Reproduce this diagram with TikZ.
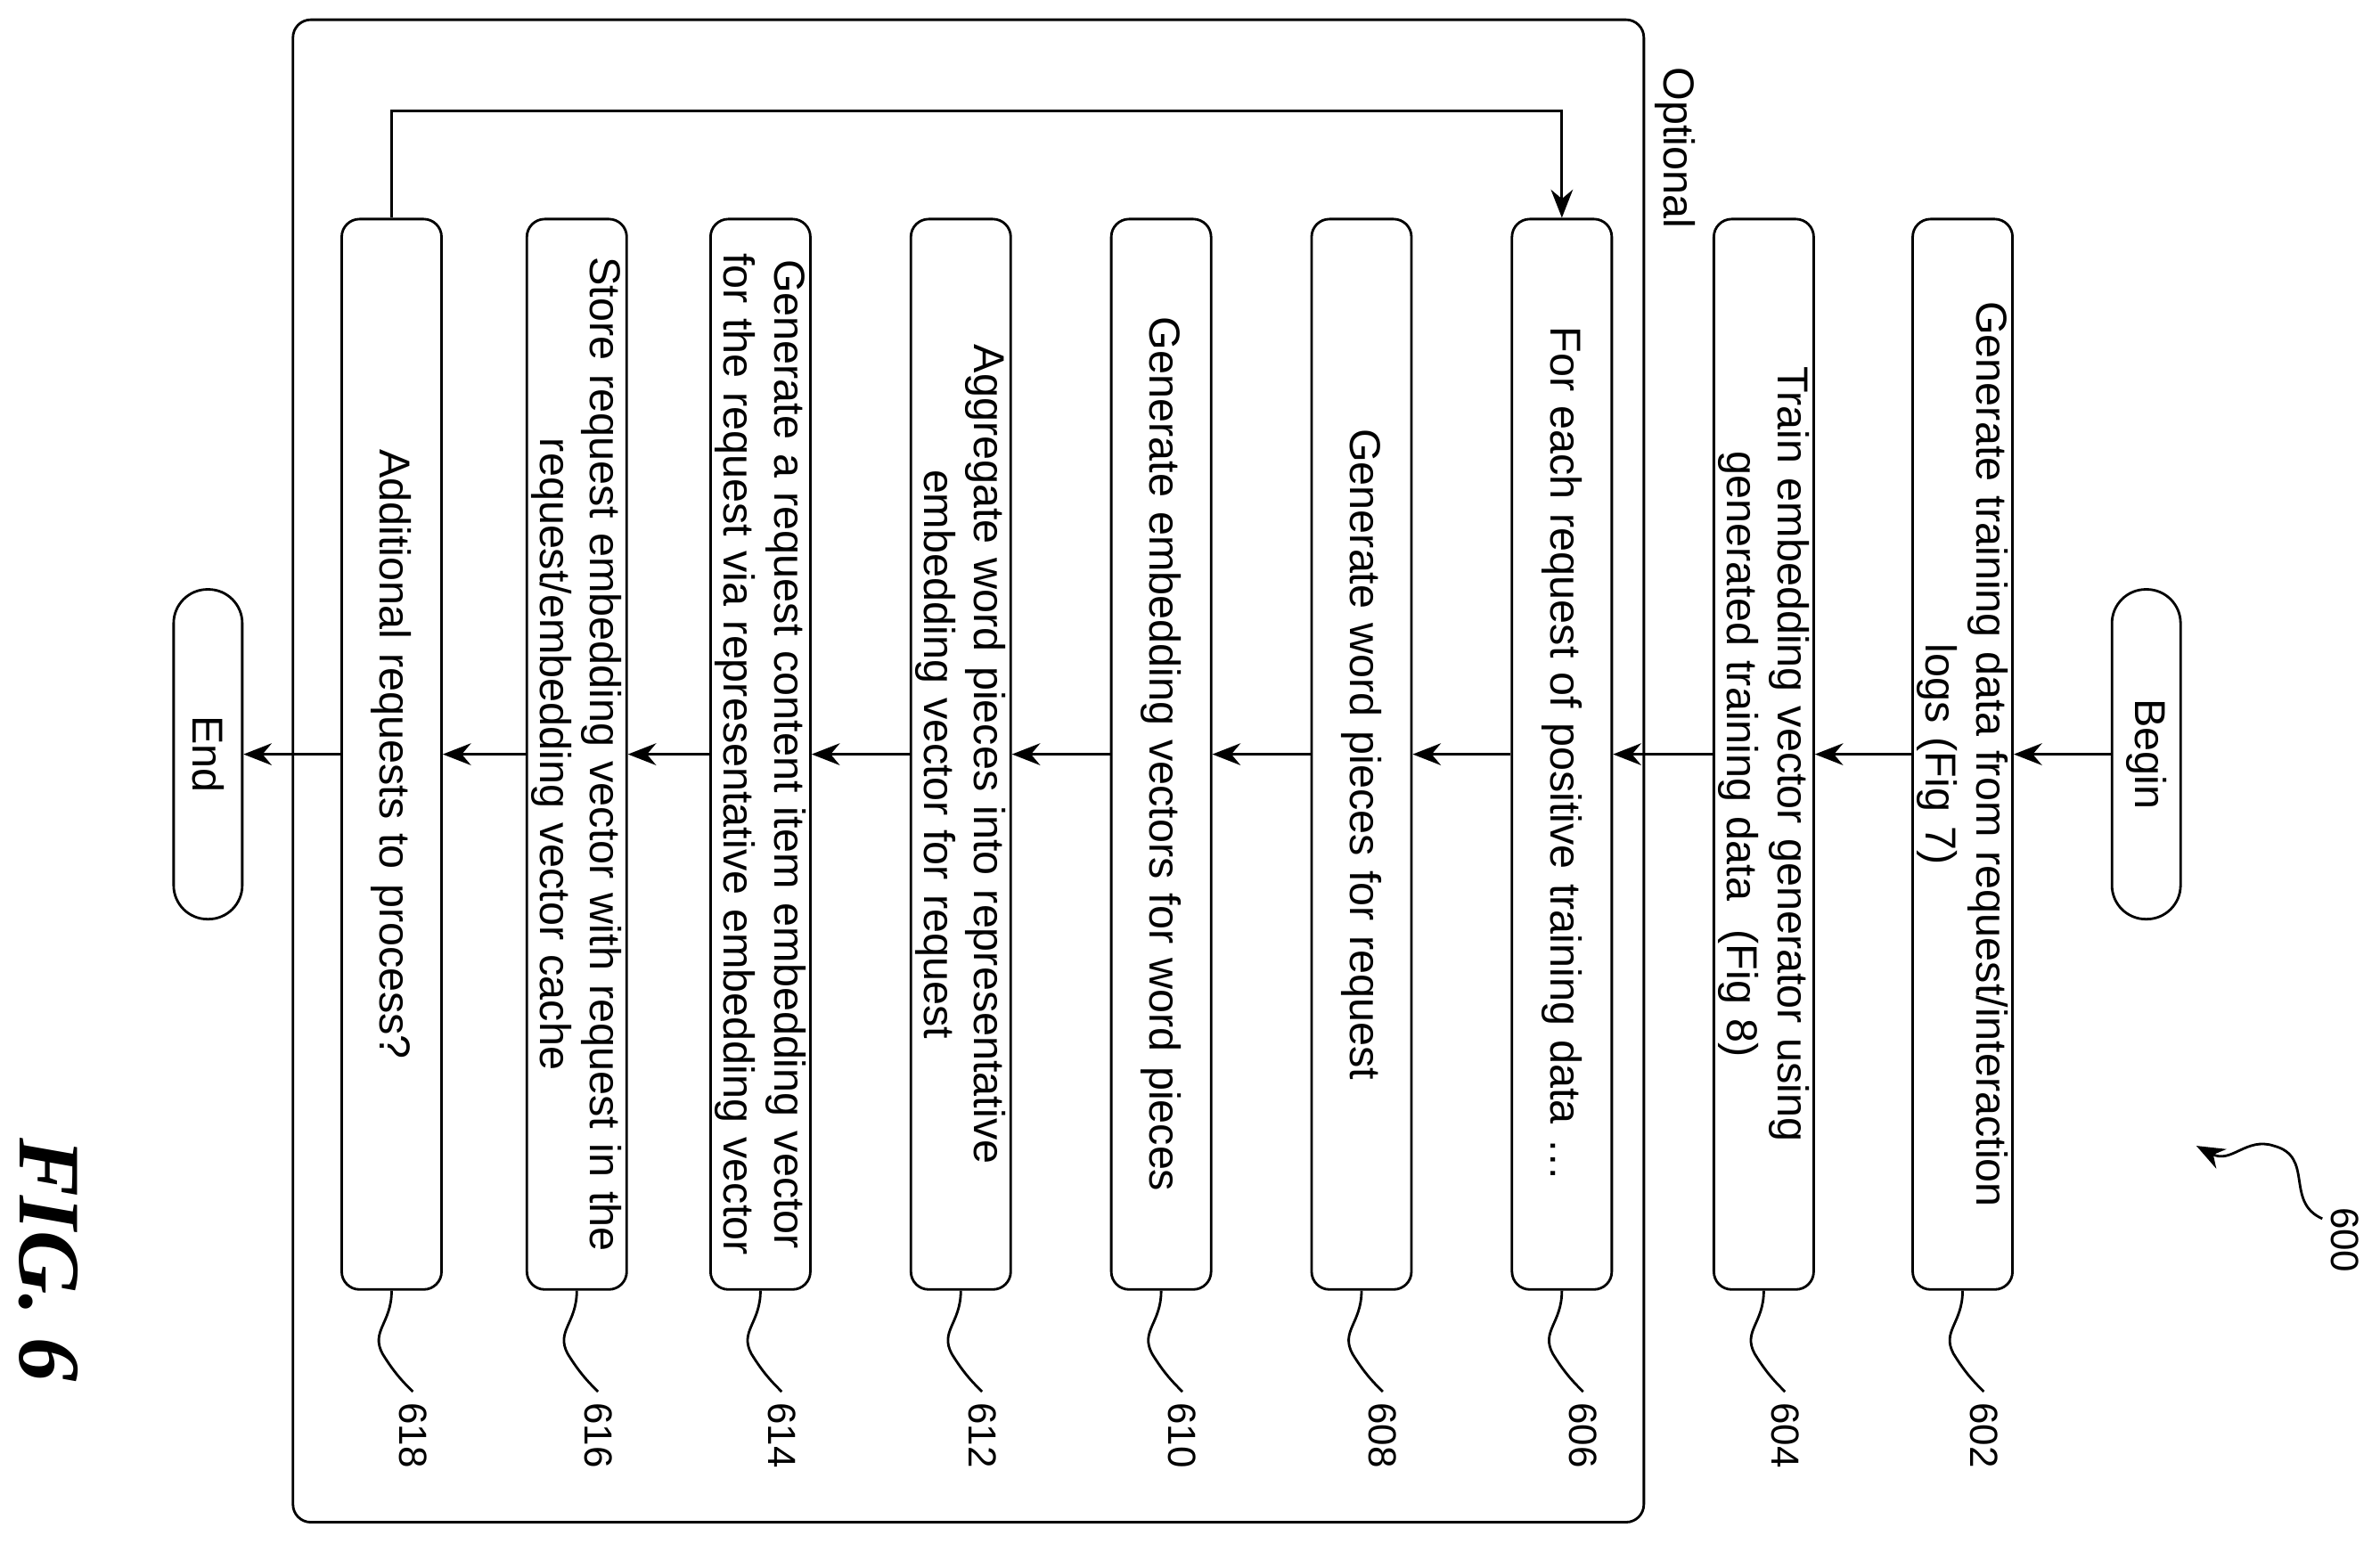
\documentclass[tikz,border=0pt]{standalone}
\usepackage{fontspec}
\setmainfont{Liberation Sans}
\newfontfamily\figfont{Liberation Serif}
\usetikzlibrary{arrows.meta}
\tikzset{
  stepbox/.style={draw, thick, rounded corners=0.2cm, rotate=-90, minimum width=12.01cm,
    minimum height=1.12cm, align=center, text width=11.8cm, inner sep=1pt,
    font=\fontsize{13.8}{16}\selectfont},
  term/.style={draw, thick, rounded corners=0.38cm, rotate=-90, minimum width=3.7cm,
    minimum height=0.77cm, font=\fontsize{13.8}{16}\selectfont},
  flow/.style={thick, -{Stealth[length=9pt,width=7pt]}},
  refnum/.style={rotate=-90, font=\fontsize{12.5}{14}\selectfont}
}
\newcommand{\refmark}[3]{% box name, x, label
  \draw[thick] (#1.east) .. controls (#2,145) and (#2-14,140) .. (#2-6,125)
    .. controls (#2+2,112) and (#2+8,106) .. (#2+14,100);
  \node[refnum, anchor=west] at (#2+14,100) {#3};
}
\begin{document}
\begin{tikzpicture}[x=0.017034cm, y=0.017034cm]
  \useasboundingbox (0,0) rectangle (1568,1017);

  % Rahmen optional
  \draw[thick, rounded corners=0.2cm] (193,14) rectangle (1083,1004);
  \node[rotate=-90, font=\fontsize{13.8}{16}\selectfont, anchor=south west] (opt) at (1083,980) {Optional};

  % Schritte
  \node[term] (begin) at (1414,520) {Begin};
  \node[stepbox] (s602) at (1293,520) {Generate training data from request/interaction\\logs (Fig 7)};
  \node[stepbox] (s604) at (1162,520) {Train embedding vector generator using\\generated training data \ (Fig 8)};
  \node[stepbox] (s606) at (1029,520) {For each request of positive training data \dots};
  \node[stepbox] (s608) at (897,520) {Generate word pieces for request};
  \node[stepbox] (s610) at (765,520) {Generate embedding vectors for word pieces};
  \node[stepbox] (s612) at (633,520) {Aggregate word pieces into representative\\embedding vector for request};
  \node[stepbox] (s614) at (501,520) {Generate a request content item embedding vector\\for the request via representative embedding vector};
  \node[stepbox] (s616) at (380,520) {Store request embedding vector with request in the\\request/embedding vector cache};
  \node[stepbox] (s618) at (258,520) {Additional requests to process?};
  \node[term] (end) at (137,520) {End};

  % Pfeile
  \draw[flow] (begin) -- (s602);
  \draw[flow] (s602) -- (s604);
  \draw[flow] (s604) -- (s606);
  \draw[flow] (s606) -- (s608);
  \draw[flow] (s608) -- (s610);
  \draw[flow] (s610) -- (s612);
  \draw[flow] (s612) -- (s614);
  \draw[flow] (s614) -- (s616);
  \draw[flow] (s616) -- (s618);
  \draw[flow] (s618) -- (end);
  \draw[flow] (s618.west) -- (258,944) -- (1029,944) -- (s606.west);

  % Bezugszeichen
  \refmark{s602}{1293}{602}
  \refmark{s604}{1162}{604}
  \refmark{s606}{1029}{606}
  \refmark{s608}{897}{608}
  \refmark{s610}{765}{610}
  \refmark{s612}{633}{612}
  \refmark{s614}{501}{614}
  \refmark{s616}{380}{616}
  \refmark{s618}{258}{618}

  \node[refnum] (n600) at (1545,200) {600};
  \draw[thick, -{Stealth[length=9pt,width=7pt]}] (1530,214) .. controls (1505,225) and (1525,255) .. (1498,262)
    .. controls (1480,268) and (1470,250) .. (1447,262);
  \node[rotate=-90, font=\figfont\bfseries\itshape\fontsize{28}{30}\selectfont] (fig) at (32,187) {FIG. 6};
\end{tikzpicture}
\end{document}
